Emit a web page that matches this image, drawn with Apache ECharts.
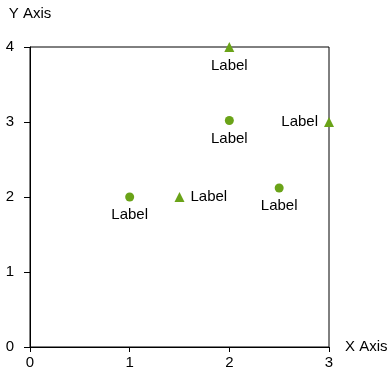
<!DOCTYPE html>
<html><head><meta charset="utf-8">
<script src="https://cdn.jsdelivr.net/npm/echarts@6/dist/echarts.min.js"></script>
<style>html,body{margin:0;padding:0;background:#fff}#c{width:392px;height:380px}</style>
</head><body><div id="c"></div>
<script>
var circlePoints = [[1, 2], [2, 3.02], [2.5, 2.12]];
var circleLabelPos = ['bottom', 'bottom', 'bottom'];
var trianglePoints = [[1.5, 2], [2, 4], [3, 3]];
var triangleLabelPos = ['right', 'bottom', 'left'];
var labelText = 'Label';
var xTicks = [0, 1, 2, 3];
var yTicks = [0, 1, 2, 3, 4];

var green = '#6aa318';
var font = 'Liberation Sans';
function mk(points, pos) {
  return points.map(function (p, i) {
    return { value: p, label: { position: pos[i] } };
  });
}
var chart = echarts.init(document.getElementById('c'), null, { renderer: 'canvas' });
chart.setOption({
  animation: false,
  grid: { left: 30, right: 63, top: 47, bottom: 33, show: true, borderColor: '#000', borderWidth: 1, containLabel: false },
  xAxis: {
    type: 'value', min: 0, max: 3, interval: 1,
    name: 'X Axis', nameLocation: 'end', nameGap: 16,
    nameTextStyle: { fontFamily: font, fontSize: 15, color: '#000' },
    axisLine: { show: true, lineStyle: { color: '#000' } },
    axisTick: { show: true, length: 5, lineStyle: { color: '#000' } },
    axisLabel: { fontFamily: font, fontSize: 15, color: '#000', margin: 8, formatter: function (v) { return xTicks.indexOf(v) >= 0 ? String(v) : ''; } },
    splitLine: { show: false }
  },
  yAxis: {
    type: 'value', min: 0, max: 4, interval: 1,
    name: 'Y Axis', nameLocation: 'end', nameGap: 26,
    nameTextStyle: { fontFamily: font, fontSize: 15, color: '#000' },
    axisLine: { show: true, lineStyle: { color: '#000' } },
    axisTick: { show: true, length: 6, lineStyle: { color: '#000' } },
    axisLabel: { fontFamily: font, fontSize: 15, color: '#000', margin: 16, formatter: function (v) { return yTicks.indexOf(v) >= 0 ? String(v) : ''; } },
    splitLine: { show: false }
  },
  series: [
    {
      type: 'scatter', symbol: 'circle', symbolSize: 9,
      itemStyle: { color: green, opacity: 1 },
      label: { show: true, formatter: labelText, fontFamily: font, fontSize: 15, color: '#000', distance: 6 },
      data: mk(circlePoints, circleLabelPos)
    },
    {
      type: 'scatter', symbol: 'triangle', symbolSize: 10,
      itemStyle: { color: green, opacity: 1 },
      label: { show: true, formatter: labelText, fontFamily: font, fontSize: 15, color: '#000', distance: 6 },
      data: mk(trianglePoints, triangleLabelPos)
    }
  ]
});
</script></body></html>
